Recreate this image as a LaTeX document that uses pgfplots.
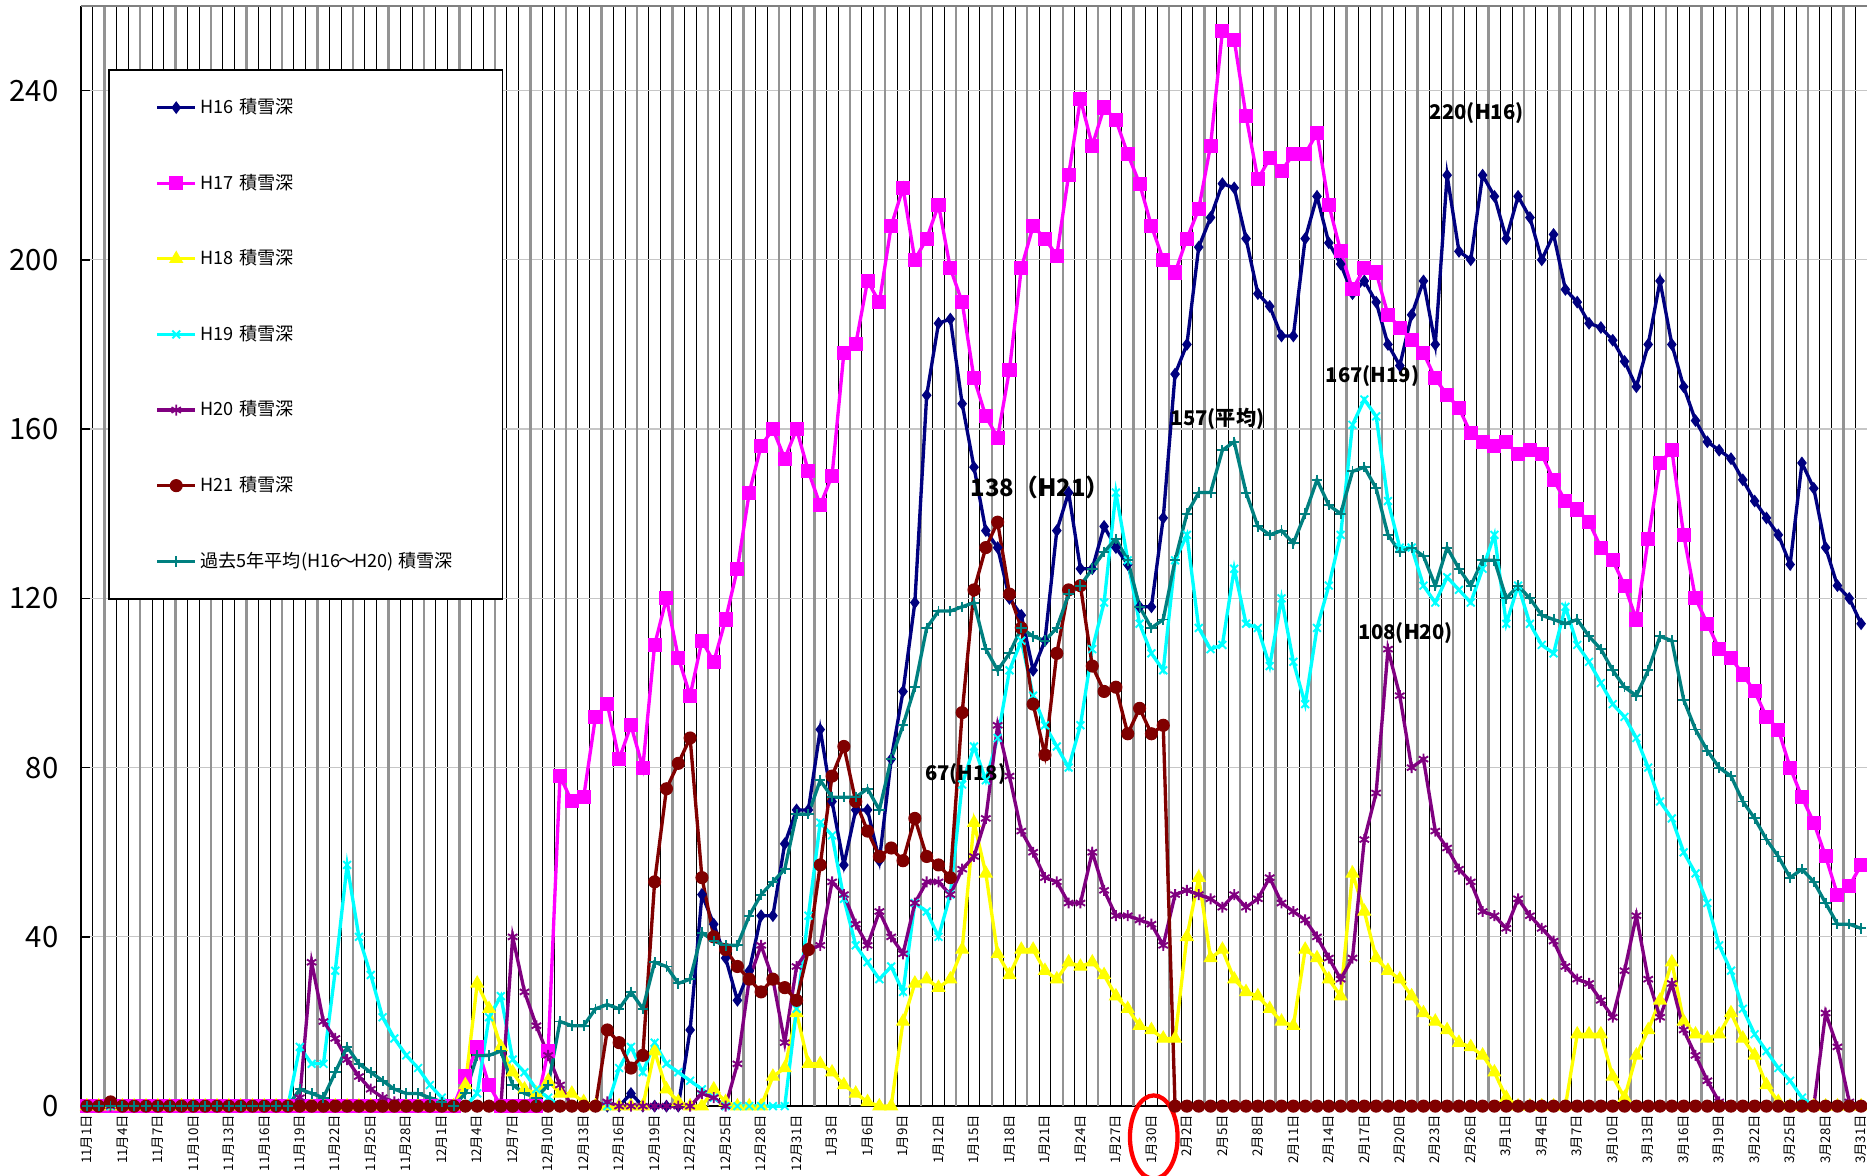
\documentclass[border=0pt]{standalone}
\usepackage{fontspec}
\setmainfont{Noto Sans CJK JP}
\usepackage{pgfplots}
\usepackage{pgfplotstable}
\pgfplotsset{compat=1.18}

\definecolor{cH16}{RGB}{0,0,128}
\definecolor{cH17}{RGB}{255,0,255}
\definecolor{cH18}{RGB}{255,255,0}
\definecolor{cH19}{RGB}{0,255,255}
\definecolor{cH20}{RGB}{128,0,128}
\definecolor{cH21}{RGB}{128,0,0}
\definecolor{cAvg}{RGB}{0,128,128}

\pgfplotstableread{
d h16 h17 h18 h19 h20 h21 avg
0 0 0 0 0 0 0 0
1 0 0 0 0 0 0 0
2 0 0 0 0 0 1 0
3 0 0 0 0 0 0 0
4 0 0 0 0 0 0 0
5 0 0 0 0 0 0 0
6 0 0 0 0 0 0 0
7 0 0 0 0 0 0 0
8 0 0 0 0 0 0 0
9 0 0 0 0 0 0 0
10 0 0 0 0 0 0 0
11 0 0 0 0 0 0 0
12 0 0 0 0 0 0 0
13 0 0 0 0 0 0 0
14 0 0 0 0 0 0 0
15 0 0 0 0 0 0 0
16 0 0 0 0 0 0 0
17 0 0 0 0 0 0 0
18 0 0 0 14 2 0 4
19 0 0 0 10 34 0 3
20 0 0 0 10 20 0 2
21 0 0 0 32 16 0 8
22 0 0 0 57 11 0 14
23 0 0 0 40 7 0 10
24 0 0 0 31 4 0 8
25 0 0 0 21 2 0 6
26 0 0 0 16 1 0 4
27 0 0 0 12 0 0 3
28 0 0 0 9 0 0 3
29 0 0 0 5 0 0 2
30 0 0 0 2 0 0 1
31 0 0 0 0 0 0 0
32 0 7 5 0 0 0 3
33 0 14 29 3 0 0 12
34 0 5 23 21 0 0 12
35 0 0 14 26 0 0 13
36 0 0 8 11 40 0 5
37 0 0 4 8 27 0 3
38 0 0 3 4 19 0 2
39 0 13 6 2 12 0 5
40 0 78 3 0 5 0 20
41 0 72 3 0 0 0 19
42 0 73 1 0 0 0 19
43 0 92 0 0 0 0 23
44 0 95 0 0 1 18 24
45 0 82 0 9 0 15 23
46 3 90 0 14 0 9 27
47 0 80 0 8 0 12 23
48 0 109 13 15 0 53 34
49 0 120 4 10 0 75 33
50 0 106 1 8 0 81 29
51 18 97 0 6 0 87 30
52 50 110 0 4 3 54 41
53 43 105 4 2 2 40 39
54 35 115 1 0 0 37 38
55 25 127 0 0 10 33 38
56 32 145 0 0 30 30 45
57 45 156 0 0 38 27 50
58 45 160 7 0 30 30 53
59 62 153 9 0 15 28 56
60 70 160 22 23 33 25 69
61 70 150 10 45 37 37 69
62 89 142 10 67 38 57 77
63 72 149 8 64 53 78 73
64 57 178 5 49 50 85 73
65 70 180 3 38 43 72 73
66 70 195 1 34 38 65 75
67 58 190 0 30 46 59 70
68 82 208 0 33 40 61 82
69 98 217 20 27 36 58 90
70 119 200 29 48 48 68 99
71 168 205 30 46 53 59 113
72 185 213 28 40 53 57 117
73 186 198 30 50 50 54 117
74 166 190 37 76 56 93 118
75 151 172 67 85 59 122 119
76 136 163 55 77 68 132 108
77 132 158 36 87 90 138 103
78 120 174 31 103 78 121 107
79 116 198 37 110 65 113 113
80 103 208 37 97 60 95 111
81 110 205 32 90 54 83 110
82 136 201 30 85 53 107 113
83 145 220 34 80 48 122 121
84 127 238 33 90 48 123 123
85 127 227 34 108 60 104 127
86 137 236 31 119 51 98 131
87 132 233 26 145 45 99 134
88 128 225 23 129 45 88 129
89 118 218 19 114 44 94 118
90 118 208 18 107 43 88 113
91 139 200 16 103 38 90 115
92 173 197 16 129 50 0 129
93 180 205 40 135 51 0 140
94 203 212 54 113 50 0 145
95 210 227 35 108 49 0 145
96 218 254 37 109 47 0 155
97 217 252 30 127 50 0 157
98 205 234 27 114 47 0 145
99 192 219 26 113 49 0 137
100 189 224 23 104 54 0 135
101 182 221 20 120 48 0 136
102 182 225 19 105 46 0 133
103 205 225 37 95 44 0 140
104 215 230 35 113 40 0 148
105 204 213 30 123 35 0 142
106 199 202 26 135 30 0 140
107 192 193 55 161 35 0 150
108 195 198 46 167 63 0 151
109 190 197 35 163 74 0 146
110 180 187 32 143 108 0 135
111 175 184 30 132 97 0 131
112 187 181 26 132 80 0 132
113 195 178 22 123 82 0 130
114 180 172 20 119 65 0 123
115 220 168 18 125 61 0 132
116 202 165 15 122 56 0 127
117 200 159 14 119 53 0 123
118 220 157 12 127 46 0 129
119 215 156 8 135 45 0 129
120 205 157 2 114 42 0 120
121 215 154 0 123 49 0 123
122 210 155 0 114 45 0 120
123 200 154 0 109 42 0 116
124 206 148 0 107 39 0 115
125 193 143 0 118 33 0 114
126 190 141 17 109 30 0 115
127 185 138 17 105 29 0 111
128 184 132 17 100 25 0 108
129 181 129 7 95 21 0 103
130 176 123 2 92 32 0 99
131 170 115 12 87 45 0 97
132 180 134 18 80 30 0 103
133 195 152 25 72 21 0 111
134 180 155 34 68 29 0 110
135 170 135 20 60 18 0 96
136 162 120 17 55 12 0 89
137 157 114 16 48 6 0 84
138 155 108 17 38 1 0 80
139 153 106 22 32 0 0 78
140 148 102 16 23 0 0 72
141 143 98 12 17 0 0 68
142 139 92 5 13 0 0 63
143 135 89 1 9 0 0 59
144 128 80 0 6 0 0 54
145 152 73 0 2 0 0 56
146 146 67 0 0 0 0 53
147 132 59 0 0 22 0 48
148 123 50 0 0 14 0 43
149 120 52 0 0 1 0 43
150 114 57 0 0 0 0 42
}\snow

\begin{document}
\begin{tikzpicture}
\begin{axis}[
  name=ax,
  scale only axis,
  width=750pt, height=462pt,
  xmin=-0.5, xmax=150.5, ymin=0, ymax=260,
  clip=false,
  axis x line*=bottom, axis y line*=left,
  axis line style={black, line width=0.6pt},
  xtick={0,3,...,150},
  xticklabels={11月1日,11月4日,11月7日,11月10日,11月13日,11月16日,11月19日,11月22日,11月25日,11月28日,
    12月1日,12月4日,12月7日,12月10日,12月13日,12月16日,12月19日,12月22日,12月25日,12月28日,12月31日,
    1月3日,1月6日,1月9日,1月12日,1月15日,1月18日,1月21日,1月24日,1月27日,1月30日,
    2月2日,2月5日,2月8日,2月11日,2月14日,2月17日,2月20日,2月23日,2月26日,
    3月1日,3月4日,3月7日,3月10日,3月13日,3月16日,3月19日,3月22日,3月25日,3月28日,3月31日},
  xticklabel style={rotate=90, anchor=east, font=\fontsize{5.6}{6}\selectfont, inner xsep=3.5pt, inner ysep=1pt},
  xtick style={draw=none},
  minor xtick={-0.5,0.5,...,150.5},
  minor tick length=0pt,
  xminorgrids=true,
  minor x grid style={black, line width=0.35pt},
  extra x ticks={1.5,4.5,...,148.5},
  extra x tick labels={},
  extra x tick style={grid=major, major grid style={gray!85, line width=1pt}, tick style={draw=none}},
  ytick={0,40,...,240},
  ymajorgrids=true,
  y grid style={gray!45, line width=0.5pt},
  ytick style={black, line width=0.6pt},
  tick align=inside,
  major tick length=4pt,
  yticklabel style={font=\fontsize{12.3}{14}\selectfont, xshift=-6pt},
  /pgf/number format/assume math mode=true,
  legend cell align=left,
  legend image code/.code={
    \draw[mark repeat=2,mark phase=2] plot coordinates {(0pt,0pt) (8pt,0pt) (16pt,0pt)};
  },
  legend style={at={(0.01533,0.9426)}, anchor=north west, draw=black, line width=0.6pt,
    fill=white, inner xsep=19.5pt, inner ysep=0pt, row sep=0pt,
    font=\fontsize{7.6}{9}\selectfont,
    nodes={inner xsep=1.5pt, inner ysep=0pt, minimum height=31.75pt}},
]
\addplot[cH16, line width=1.4pt, mark=diamond*, mark size=2.3pt, mark options={solid, fill=cH16, line width=0.5pt}] table[x=d,y=h16]{\snow};
\addlegendentry{H16\hspace{2.5pt}積雪深}
\addplot[cH17, line width=1.4pt, mark=square*, mark size=2.7pt, mark options={solid, fill=cH17, line width=0.5pt}] table[x=d,y=h17]{\snow};
\addlegendentry{H17\hspace{2.5pt}積雪深}
\addplot[cH18, line width=1.4pt, mark=triangle*, mark size=3pt, mark options={solid, fill=cH18, line width=0.5pt}] table[x=d,y=h18]{\snow};
\addlegendentry{H18\hspace{2.5pt}積雪深}
\addplot[cH19, line width=1.4pt, mark=x, mark size=2.3pt, mark options={solid, line width=0.8pt}] table[x=d,y=h19]{\snow};
\addlegendentry{H19\hspace{2.5pt}積雪深}
\addplot[cH20, line width=1.4pt, mark=asterisk, mark size=2.3pt, mark options={solid, line width=0.8pt}] table[x=d,y=h20]{\snow};
\addlegendentry{H20\hspace{2.5pt}積雪深}
\addplot[cH21, line width=1.4pt, mark=*, mark size=2.5pt, mark options={solid, fill=cH21, line width=0.5pt}] table[x=d,y=h21]{\snow};
\addlegendentry{H21\hspace{2.5pt}積雪深}
\addplot[cAvg, line width=1.4pt, mark=+, mark size=2.2pt, mark options={solid, line width=0.8pt}] table[x=d,y=avg]{\snow};
\addlegendentry{過去5年平均(H16\kern-0.8pt～\kern-0.8pt H20) 積雪深}

\draw[gray, line width=0.8pt] (rel axis cs:0,1) -- (rel axis cs:1,1);

\node[font=\bfseries\fontsize{8.5}{10}\selectfont] at (axis cs:117.5,234.6) {220(H16)};
\node[font=\bfseries\fontsize{8.5}{10}\selectfont] at (axis cs:108.7,172.6) {167(H19)};
\node[font=\bfseries\fontsize{8.5}{10}\selectfont] at (axis cs:95.6,162.4) {157(平均)};
\node[font=\bfseries\fontsize{10}{12}\selectfont] at (axis cs:80.6,146.1) {138（H21）};
\node[font=\bfseries\fontsize{8.5}{10}\selectfont] at (axis cs:74.3,78.4) {67(H18)};
\node[font=\bfseries\fontsize{8.5}{10}\selectfont] at (axis cs:111.5,111.7) {108(H20)};

\draw[red, line width=1.8pt] (axis cs:90.2,0) ++(0pt,-13pt) ellipse [x radius=10pt, y radius=17.5pt];
\end{axis}
\pgfresetboundingbox
\path ([xshift=-34pt,yshift=-29pt]ax.south west) rectangle ([yshift=2.5pt]ax.north east);
\end{tikzpicture}
\end{document}
